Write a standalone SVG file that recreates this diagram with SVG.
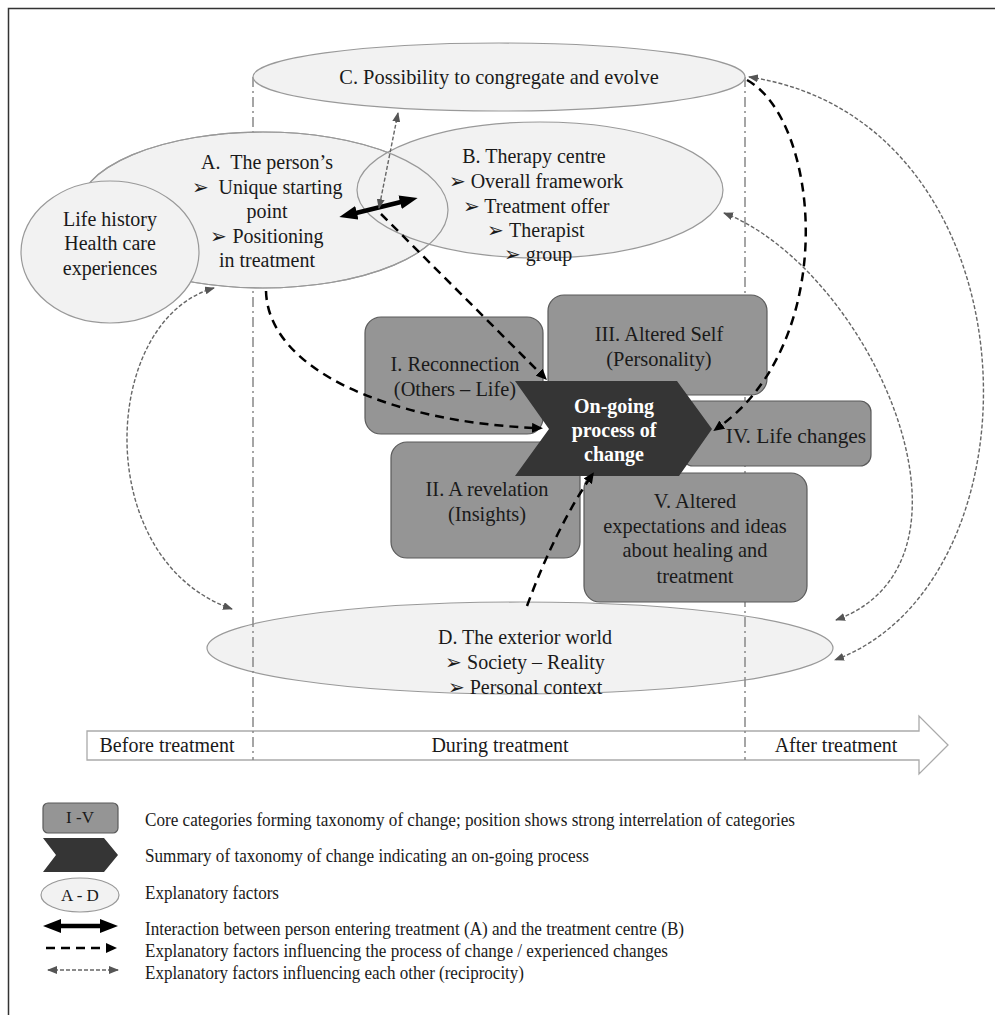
<svg xmlns="http://www.w3.org/2000/svg" width="995" height="1015" viewBox="0 0 995 1015">
<style>
text{font-family:"Liberation Serif","Times New Roman",serif;fill:#1a1a1a;}
.t18{font-size:20px;text-anchor:middle;}
.bx{font-size:20.4px;text-anchor:middle;}
.leg{font-size:19px;}
.ell{fill:#f2f2f2;stroke:#999;stroke-width:1.2;}
.ol{fill:none;stroke:#999;stroke-width:1.2;}
.box{fill:#959595;stroke:#5a5a5a;stroke-width:1.2;}
.chev{fill:#353535;}
.ct{font-size:20px;font-weight:bold;fill:#fff;text-anchor:middle;}
.vline{stroke:#888;stroke-width:1.5;stroke-dasharray:10,4,2,4;fill:none;}
.thick{stroke:#000;stroke-width:4.5;fill:none;marker-start:url(#mThick);marker-end:url(#mThick);}
.bdash{stroke:#000;stroke-width:2.5;stroke-dasharray:9,6;fill:none;marker-end:url(#mBlack);}
.gdash{stroke:#666;stroke-width:1.4;stroke-dasharray:4,2;fill:none;marker-start:url(#mGray);marker-end:url(#mGray);}
</style>
<defs>
<marker id="mThick" markerUnits="userSpaceOnUse" markerWidth="18" markerHeight="14" refX="5" refY="7" orient="auto-start-reverse"><path d="M0,0 L18,7 L0,14 z" fill="#000"/></marker>
<marker id="mBlack" markerUnits="userSpaceOnUse" markerWidth="11" markerHeight="10" refX="4" refY="5" orient="auto-start-reverse"><path d="M0,0 L11,5 L0,10 z" fill="#000"/></marker>
<marker id="mGray" markerUnits="userSpaceOnUse" markerWidth="10" markerHeight="8" refX="9" refY="4" orient="auto-start-reverse"><path d="M0,0 L10,4 L0,8 z" fill="#555"/></marker>
</defs>
<rect x="0" y="0" width="995" height="1015" fill="#fff"/>
<path d="M8.5,1015 V8.5 H995" fill="none" stroke="#333" stroke-width="1.5"/>

<g id="timeline">
<path d="M87,731 H919 V716 L948,745 L919,774 V760 H87 Z" fill="#fff" stroke="#aaa" stroke-width="1.3"/>
<text class="t18" x="167" y="752">Before treatment</text>
<text class="t18" x="500" y="752">During treatment</text>
<text class="t18" x="836" y="752">After treatment</text>
</g>

<g id="D">
<ellipse class="ell" cx="520" cy="648" rx="313" ry="46"/>
<text class="t18" x="525" y="644">D. The exterior world</text>
<text class="t18" x="525" y="669">➢ Society – Reality</text>
<text class="t18" x="525" y="694">➢ Personal context</text>
</g>

<g id="phase-lines">
<path class="vline" d="M253,77 V760"/>
<path class="vline" d="M745,77 V760"/>
</g>

<g id="C">
<ellipse class="ell" cx="499" cy="77" rx="246" ry="34"/>
<text class="t18" x="499" y="84" style="font-size:20.4px">C. Possibility to congregate and evolve</text>
</g>

<g id="A">
<ellipse class="ell" cx="263" cy="210" rx="185" ry="78"/>
</g>

<g id="B">
<ellipse class="ell" cx="540" cy="190" rx="183" ry="68"/>
<ellipse class="ol" cx="263" cy="210" rx="185" ry="78"/>
<text class="t18" x="534" y="163">B. Therapy centre</text>
<text class="t18" x="536" y="188">➢ Overall framework</text>
<text class="t18" x="536" y="213">➢ Treatment offer</text>
<text class="t18" x="536" y="237">➢ Therapist</text>
<text class="t18" x="538" y="261">➢ group</text>
</g>

<g id="A-text">
<text class="t18" x="267" y="169">A.&#160; The person’s</text>
<text class="t18" x="267" y="194">➢&#160; Unique starting</text>
<text class="t18" x="267" y="218">point</text>
<text class="t18" x="267" y="243">➢ Positioning</text>
<text class="t18" x="267" y="267">in treatment</text>
</g>

<g id="life-history">
<ellipse class="ell" cx="110" cy="252" rx="89" ry="71"/>
<text class="t18" x="110" y="226">Life history</text>
<text class="t18" x="110" y="250">Health care</text>
<text class="t18" x="110" y="275">experiences</text>
</g>

<g id="cat-I">
<rect class="box" x="365" y="317" width="178" height="117" rx="16"/>
<text class="bx" x="455" y="371">I. Reconnection</text>
<text class="bx" x="455" y="396">(Others – Life)</text>
</g>
<g id="cat-III">
<rect class="box" x="548" y="295" width="219" height="100" rx="16"/>
<text class="bx" x="659" y="341">III. Altered Self</text>
<text class="bx" x="659" y="366">(Personality)</text>
</g>
<g id="cat-IV">
<rect class="box" x="682" y="401" width="189" height="65" rx="11"/>
<text class="bx" x="796" y="443" style="font-size:21.4px">IV. Life changes</text>
</g>
<g id="cat-II">
<rect class="box" x="391" y="442" width="189" height="116" rx="16"/>
<text class="bx" x="487" y="496">II. A revelation</text>
<text class="bx" x="487" y="521">(Insights)</text>
</g>
<g id="cat-V">
<rect class="box" x="584" y="473" width="223" height="129" rx="16"/>
<text class="bx" x="695" y="508">V. Altered</text>
<text class="bx" x="695" y="533">expectations and ideas</text>
<text class="bx" x="695" y="557">about healing and</text>
<text class="bx" x="695" y="583">treatment</text>
</g>

<g id="process">
<polygon class="chev" points="515,381 677,381 712,429 679,476 515,476 549,429"/>
<text class="ct" x="614" y="413">On-going</text>
<text class="ct" x="614" y="437">process of</text>
<text class="ct" x="614" y="461">change</text>
</g>

<g id="connectors">
<path class="thick" d="M352,214 L405,201"/>
<path class="bdash" d="M266,291 C268,370 390,422 536,428"/>
<path class="bdash" d="M381,214 L542,375"/>
<path class="bdash" d="M747,80 C820,120 840,340 719,427"/>
<path class="bdash" d="M527,606 Q555,530 590,478"/>
<path class="gdash" d="M398,113 L379,208"/>
<path class="gdash" d="M214,288 C100,320 90,560 232,609"/>
<path class="gdash" d="M749,77 C1040,120 1050,580 835,660"/>
<path class="gdash" d="M724,213 C870,270 1000,560 836,620"/>
</g>

<g id="legend">
<rect class="box" x="43" y="803" width="75" height="30" rx="5"/>
<text x="80" y="823" style="font-size:17px;text-anchor:middle">I -V</text>
<polygon class="chev" points="43,838 104,838 118,855 104,872 43,872 56,855"/>
<ellipse class="ell" cx="80" cy="895" rx="39" ry="17"/>
<text x="80" y="901" style="font-size:17px;text-anchor:middle">A - D</text>
<path class="thick" d="M56,926 L105,926"/>
<path class="bdash" d="M46,948 L110,948"/>
<path class="gdash" d="M48,970 L118,970"/>
<text class="leg" x="145" y="826" textLength="650" lengthAdjust="spacingAndGlyphs">Core categories forming taxonomy of change; position shows strong interrelation of categories</text>
<text class="leg" x="145" y="862" textLength="444" lengthAdjust="spacingAndGlyphs">Summary of taxonomy of change indicating an on-going process</text>
<text class="leg" x="145" y="899" textLength="134" lengthAdjust="spacingAndGlyphs">Explanatory factors</text>
<text class="leg" x="145" y="935" textLength="539" lengthAdjust="spacingAndGlyphs">Interaction between person entering treatment (A) and the treatment centre (B)</text>
<text class="leg" x="145" y="957" textLength="523" lengthAdjust="spacingAndGlyphs">Explanatory factors influencing the process of change / experienced changes</text>
<text class="leg" x="145" y="979" textLength="379" lengthAdjust="spacingAndGlyphs">Explanatory factors influencing each other (reciprocity)</text>
</g>
</svg>
